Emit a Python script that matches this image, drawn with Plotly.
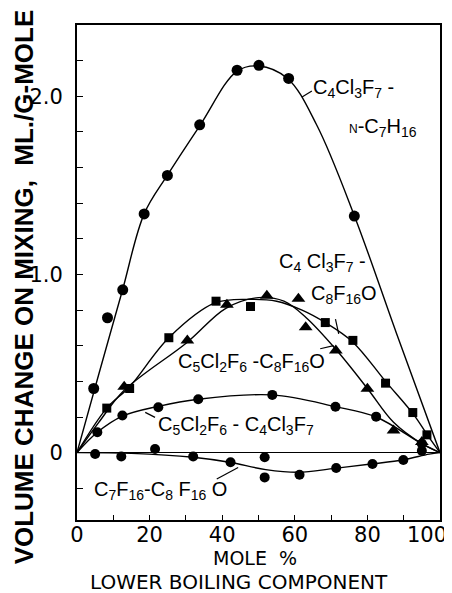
import plotly.graph_objects as go

# ---- data ----
# C4Cl3F7 - n-C7H16 (circles)
s1_x = [4.6, 8.4, 12.6, 18.5, 24.9, 33.8, 44.1, 50.1, 58.3, 76.4]
s1_y = [0.36, 0.757, 0.914, 1.34, 1.556, 1.84, 2.146, 2.174, 2.10, 1.328]
c1_x = [0, 6, 12.5, 18.5, 25, 34, 44, 50, 58, 66, 76.4, 88, 100]
c1_y = [0, 0.44, 0.91, 1.34, 1.56, 1.84, 2.14, 2.17, 2.10, 1.84, 1.33, 0.67, 0]

# C4Cl3F7 - C8F16O (squares)
sq_x = [8.2, 14.5, 25.3, 38.3, 47.8, 68.4, 76.0, 85.0, 92.5, 96.4]
sq_y = [0.25, 0.36, 0.645, 0.85, 0.82, 0.73, 0.63, 0.39, 0.225, 0.10]
csq_x = [0, 8.2, 14.5, 25.3, 38, 48, 55, 62, 68.4, 76, 85, 92.5, 96.5, 100]
csq_y = [0, 0.25, 0.37, 0.645, 0.84, 0.86, 0.85, 0.80, 0.73, 0.62, 0.40, 0.22, 0.10, 0]

# C5Cl2F6 - C8F16O (triangles)
tr_x = [13.0, 30.4, 41.3, 52.3, 61.0, 63.0, 71.3, 80.0, 87.2, 95.0]
tr_y = [0.37, 0.63, 0.83, 0.88, 0.863, 0.704, 0.573, 0.358, 0.124, 0.06]
ctr_x = [0, 6, 13, 30.4, 41, 50, 57, 63, 71.3, 80, 87.2, 95, 100]
ctr_y = [0, 0.17, 0.35, 0.62, 0.81, 0.87, 0.85, 0.76, 0.58, 0.36, 0.17, 0.05, 0]

# C5Cl2F6 - C4Cl3F7 (circles)
s4_x = [5.6, 12.5, 22.4, 33.4, 53.8, 71.2, 82.4, 95.0]
s4_y = [0.114, 0.208, 0.255, 0.30, 0.324, 0.258, 0.202, 0.05]
c4_x = [0, 5.6, 12.5, 22.4, 33.4, 53.8, 71.2, 82.4, 95, 100]
c4_y = [0, 0.114, 0.205, 0.26, 0.30, 0.324, 0.258, 0.20, 0.05, 0]

# C7F16 - C8F16O (circles)
s5_x = [5.0, 12.2, 21.5, 32.0, 42.3, 51.7, 51.7, 61.3, 71.4, 81.4, 89.9, 95.0]
s5_y = [-0.008, -0.022, 0.02, -0.022, -0.054, -0.026, -0.139, -0.124, -0.086, -0.064, -0.041, 0.011]
c5_x = [0, 15, 32, 42, 52, 61, 71, 81, 90, 97, 100]
c5_y = [0, -0.004, -0.026, -0.054, -0.095, -0.11, -0.088, -0.064, -0.04, -0.008, 0]

y_tickvals = [-0.2, 0, 0.2, 0.4, 0.6, 0.8, 1.0, 1.2, 1.4, 1.6, 1.8, 2.0, 2.2]
y_ticktext = ["", "0", "", "", "", "", "1.0", "", "", "", "", "2.0", ""]
x_tickvals = [0, 10, 20, 30, 40, 50, 60, 70, 80, 90, 100]
x_ticktext = ["0", "", "20", "", "40", "", "60", "", "80", "", ""]
x_last_label = "100"

FONT = "Liberation Sans"
WIDE = "DejaVu Sans"
fig = go.Figure()

for cx, cy in [(c1_x, c1_y), (csq_x, csq_y), (ctr_x, ctr_y), (c4_x, c4_y), (c5_x, c5_y)]:
    fig.add_trace(go.Scatter(x=cx, y=cy, mode="lines",
                             line=dict(color="black", width=1.4, shape="spline", smoothing=1.0),
                             hoverinfo="skip", showlegend=False))

for mx, my, sym, sz in [(s1_x, s1_y, "circle", 11), (s4_x, s4_y, "circle", 10),
                        (s5_x, s5_y, "circle", 10), (sq_x, sq_y, "square", 9),
                        (tr_x, tr_y, "triangle-up", 12)]:
    fig.add_trace(go.Scatter(x=mx, y=my, mode="markers",
                             marker=dict(symbol=sym, size=sz, color="black"),
                             showlegend=False))

lab_font = dict(family=FONT, size=20, color="black")
labels = [
    (64.5, 2.045, "C<sub>4</sub>Cl<sub>3</sub>F<sub>7</sub> -"),
    (74.5, 1.825, "<span style='font-size:12px'>N</span>-C<sub>7</sub>H<sub>16</sub>"),
    (55.0, 1.065, "C<sub>4</sub> Cl<sub>3</sub>F<sub>7</sub> -"),
    (64.0, 0.89, "C<sub>8</sub>F<sub>16</sub>O"),
    (27.3, 0.505, "C<sub>5</sub>Cl<sub>2</sub>F<sub>6</sub> -C<sub>8</sub>F<sub>16</sub>O"),
    (21.8, 0.15, "C<sub>5</sub>Cl<sub>2</sub>F<sub>6</sub> - C<sub>4</sub>Cl<sub>3</sub>F<sub>7</sub>"),
    (4.2, -0.215, "C<sub>7</sub>F<sub>16</sub>-C<sub>8</sub> F<sub>16</sub> O"),
]
for lx, ly, txt in labels:
    fig.add_annotation(x=lx, y=ly, text=txt, showarrow=False, xanchor="left",
                       yanchor="middle", font=lab_font)

leaders = [
    (62.0, 1.996, 64.7, 2.03),
    (71.2, 0.75, 72.1, 0.667),
    (67.0, 0.583, 70.7, 0.601),
    (18.8, 0.226, 21.5, 0.198),
    (38.5, -0.148, 44.4, -0.083),
]
for x0, y0, x1, y1 in leaders:
    fig.add_shape(type="line", x0=x0, y0=y0, x1=x1, y1=y1, xref="x", yref="y",
                  line=dict(color="black", width=1.2))

axis_font = dict(family=WIDE, size=21, color="black")
fig.add_annotation(x=100, y=0, xref="x", yref="paper", text=x_last_label,
                   showarrow=False, xanchor="right", yanchor="top", xshift=9, yshift=-1,
                   font=axis_font)

fig.add_annotation(x=0.49, y=-0.0768, xref="paper", yref="paper", text="MOLE&nbsp;&nbsp;%",
                   showarrow=False, font=dict(family=WIDE, size=19, color="black"),
                   xanchor="center", yanchor="middle")
fig.add_annotation(x=0.446, y=-0.1253, xref="paper", yref="paper",
                   text="LOWER BOILING COMPONENT",
                   showarrow=False, font=dict(family=WIDE, size=20, color="black"),
                   xanchor="center", yanchor="middle")
fig.add_annotation(x=-0.146, y=0.47, xref="paper", yref="paper", textangle=-90,
                   text="<b>VOLUME CHANGE ON MIXING,  ML./G-MOLE</b>",
                   showarrow=False, font=dict(family=FONT, size=26, color="black"),
                   xanchor="center", yanchor="middle")

fig.update_xaxes(range=[0, 100], tickvals=x_tickvals, ticktext=x_ticktext,
                 ticks="inside", ticklen=5, tickwidth=1.2, tickcolor="black",
                 showline=True, linecolor="black", linewidth=2, mirror=True,
                 showgrid=False, zeroline=False, automargin=False,
                 ticklabelstandoff=-5, tickfont=axis_font)
fig.update_yaxes(range=[-0.378, 2.40], tickvals=y_tickvals, ticktext=y_ticktext,
                 ticks="inside", ticklen=6, tickwidth=1.2, tickcolor="black",
                 showline=True, linecolor="black", linewidth=2, mirror=True,
                 showgrid=False, zeroline=True, zerolinecolor="black", zerolinewidth=1.4,
                 automargin=False, ticklabelstandoff=8,
                 tickfont=axis_font)

# the page body adds an 8px offset, so the figure is sized to fill the rest of the window
fig.update_layout(width=444, height=585, margin=dict(l=69, r=12, t=17, b=73),
                  plot_bgcolor="white", paper_bgcolor="white")

fig.write_html("out.html")
